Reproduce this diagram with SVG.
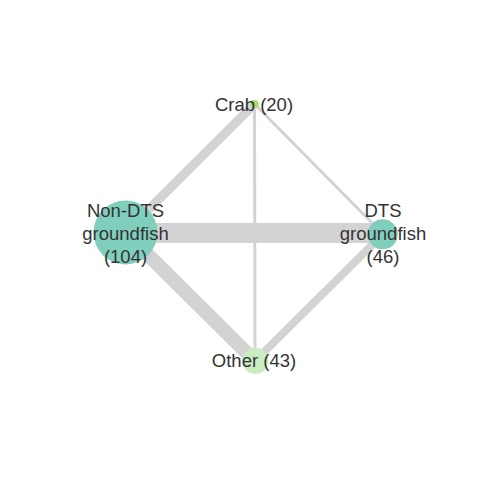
<svg xmlns="http://www.w3.org/2000/svg" width="480" height="480" viewBox="0 0 480 480">
<style>
.e{stroke:#d3d3d3;fill:none;stroke-linecap:butt}
.t{font-family:"Liberation Sans",Arial,sans-serif;font-size:18.5px;fill:#333333;text-anchor:middle}
</style>
<rect width="480" height="480" fill="#ffffff"/>
<g id="edges">
<line class="e" x1="125.5" y1="233" x2="383" y2="233" stroke-width="20"/>
<line class="e" x1="125.5" y1="232.5" x2="254.5" y2="104" stroke-width="9"/>
<line class="e" x1="125.5" y1="232.5" x2="255" y2="361" stroke-width="14"/>
<line class="e" x1="383" y1="234" x2="255" y2="361" stroke-width="8"/>
<line class="e" x1="254.5" y1="104" x2="383" y2="234" stroke-width="3"/>
<line class="e" x1="254.5" y1="104" x2="255" y2="361" stroke-width="3"/>
</g>
<g id="nonDTS">
<circle cx="125.5" cy="232.5" r="32" fill="#80cebc"/>
<text class="t" x="125.5" y="217.3">Non-DTS</text>
<text class="t" x="125.5" y="240">groundfish</text>
<text class="t" x="125.5" y="262.7">(104)</text>
</g>
<g id="DTS">
<circle cx="382.7" cy="234.3" r="15" fill="#80cebc"/>
<text class="t" x="383" y="217.3">DTS</text>
<text class="t" x="383" y="240">groundfish</text>
<text class="t" x="383" y="262.7">(46)</text>
</g>
<g id="crab">
<circle cx="254.7" cy="104" r="4" fill="#a6dc6a"/>
<text class="t" x="254" y="110.7">Crab (20)</text>
</g>
<g id="other">
<circle cx="255.3" cy="360.7" r="13" fill="#c9ecc0"/>
<text class="t" x="254" y="367.3">Other (43)</text>
</g>
</svg>
